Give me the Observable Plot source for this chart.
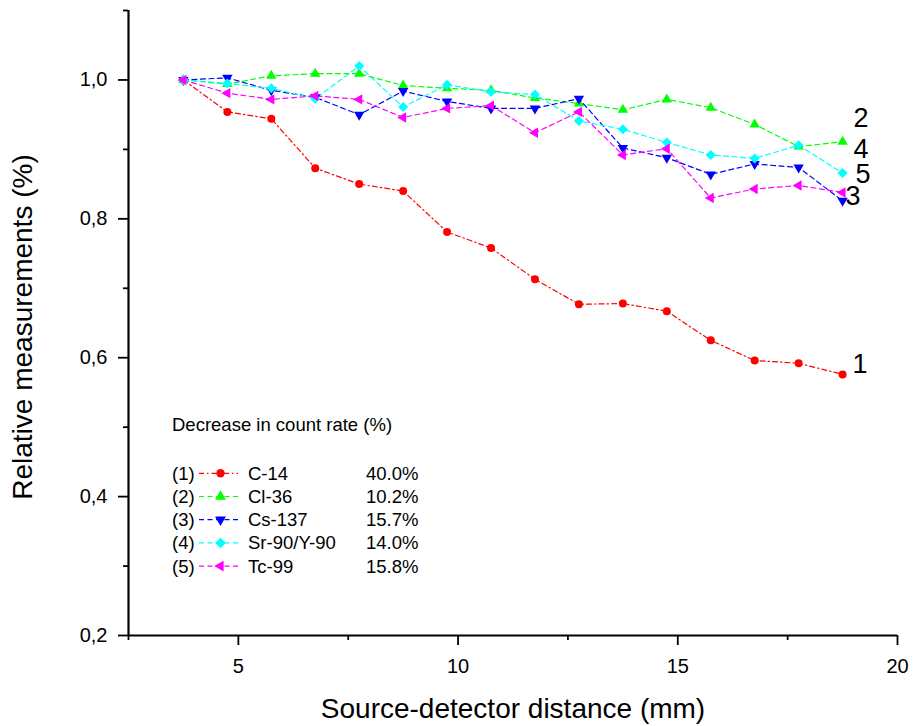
<!DOCTYPE html>
<html>
<head>
<meta charset="utf-8">
<script src="https://cdn.jsdelivr.net/npm/d3@7"></script>
<script src="https://cdn.jsdelivr.net/npm/@observablehq/plot@0.6"></script>
<style>
  body { margin: 0; background: #fff; }
  #wrap { position: relative; width: 913px; height: 726px; font-family: "Liberation Sans", Arial, sans-serif; }
  #legend { position: absolute; left: 0; top: 0; pointer-events: none; }
</style>
</head>
<body>
<div id="wrap"></div>
<script>
// ---- data ----
const distances = [3.75, 4.75, 5.75, 6.75, 7.75, 8.75, 9.75, 10.75, 11.75, 12.75, 13.75, 14.75, 15.75, 16.75, 17.75, 18.75];
const c14   = [1.000, 0.954, 0.944, 0.873, 0.850, 0.840, 0.781, 0.758, 0.713, 0.677, 0.678, 0.667, 0.625, 0.596, 0.592, 0.576];
const cl36  = [1.000, 0.994, 1.006, 1.009, 1.009, 0.992, 0.988, 0.985, 0.974, 0.966, 0.957, 0.972, 0.960, 0.936, 0.904, 0.911];
const cs137 = [1.000, 1.003, 0.985, 0.975, 0.950, 0.984, 0.969, 0.959, 0.959, 0.973, 0.902, 0.888, 0.864, 0.879, 0.874, 0.826];
const sr90  = [1.000, 0.995, 0.988, 0.973, 1.020, 0.961, 0.993, 0.983, 0.979, 0.941, 0.929, 0.910, 0.892, 0.887, 0.906, 0.866];
const tc99  = [1.000, 0.981, 0.972, 0.977, 0.972, 0.946, 0.959, 0.963, 0.924, 0.954, 0.892, 0.901, 0.830, 0.843, 0.848, 0.838];

const seriesNames  = ["C-14", "Cl-36", "Cs-137", "Sr-90/Y-90", "Tc-99"];
const seriesNumbers = ["1", "2", "3", "4", "5"];
const decreases    = ["40.0%", "10.2%", "15.7%", "14.0%", "15.8%"];
const legendTitle  = "Decrease in count rate (%)";

const xTickValues = [5, 10, 15, 20];
const xTickLabels = ["5", "10", "15", "20"];
const xMinorTicks = [2.5, 7.5, 12.5, 17.5];
const yTickValues = [0.2, 0.4, 0.6, 0.8, 1.0];
const yTickLabels = ["0,2", "0,4", "0,6", "0,8", "1,0"];
const yMinorTicks = [0.3, 0.5, 0.7, 0.9, 1.1];
const xTitle = "Source-detector distance (mm)";
const yTitle = "Relative measurements (%)";

// ---- styles ----
const colors = ["#ff0000", "#00ff00", "#0000ff", "#00ffff", "#ff00ff"];
const dashes = ["5,3,1.5,3", "5,3.5", "5,3.5", "5,3.5", "5,3.5"];
const labelOffsets = [[10, -10], [11, -23], [3, -4], [11, -24], [13, -18]];

// custom symbols (size = pi r^2)
function tri(angle) {
  return {
    draw(ctx, size) {
      const r = Math.sqrt(size / Math.PI);
      const side = 2.6 * r;
      const R = side / Math.sqrt(3);
      for (let k = 0; k < 3; k++) {
        const a = angle + k * 2 * Math.PI / 3;
        const px = R * Math.cos(a), py = R * Math.sin(a);
        if (k === 0) ctx.moveTo(px, py); else ctx.lineTo(px, py);
      }
      ctx.closePath();
    }
  };
}
const circleSym = { draw(ctx, size) { const r = Math.sqrt(size / Math.PI); ctx.moveTo(r, 0); ctx.arc(0, 0, r, 0, 2 * Math.PI); } };
const diamondSym = { draw(ctx, size) { const r = Math.sqrt(size / Math.PI) * 1.25; ctx.moveTo(0, -r); ctx.lineTo(r, 0); ctx.lineTo(0, r); ctx.lineTo(-r, 0); ctx.closePath(); } };
const symbols = [circleSym, tri(-Math.PI / 2), tri(Math.PI / 2), diamondSym, tri(Math.PI)];

const seriesValues = [c14, cl36, cs137, sr90, tc99];
const series = seriesValues.map((vals, i) => vals.map((v, j) => ({ x: distances[j], y: v, k: i })));

const FONT = "'Liberation Sans', Arial, sans-serif";

const marks = [];
series.forEach((data, i) => {
  marks.push(Plot.line(data, { x: "x", y: "y", stroke: colors[i], strokeWidth: 1.2, strokeDasharray: dashes[i] }));
});
series.forEach((data, i) => {
  marks.push(Plot.dot(data, { x: "x", y: "y", fill: colors[i], stroke: "none", r: 4, symbol: symbols[i] }));
});
series.forEach((data, i) => {
  marks.push(Plot.text([data[data.length - 1]], {
    x: "x", y: "y", text: () => seriesNumbers[i], textAnchor: "start", lineAnchor: "middle",
    dx: labelOffsets[i][0], dy: labelOffsets[i][1], fontSize: 27, fill: "#000"
  }));
});

marks.push(
  Plot.axisY(yTickValues, { tickSize: 10, tickPadding: 11, fontSize: 20, strokeWidth: 1.8, label: null,
    tickFormat: d => yTickLabels[yTickValues.indexOf(d)] }),
  Plot.axisY(yMinorTicks, { tickSize: 5, strokeWidth: 1.8, label: null, tickFormat: () => "" }),
  Plot.axisX(xTickValues, { tickSize: 10, tickPadding: 13, fontSize: 20, strokeWidth: 1.8, label: null,
    tickFormat: d => xTickLabels[xTickValues.indexOf(d)] }),
  Plot.axisX(xMinorTicks, { tickSize: 5, strokeWidth: 1.8, label: null, tickFormat: () => "" }),
  Plot.ruleX([2.5], { stroke: "#000", strokeWidth: 2.2 }),
  Plot.ruleY([0.2], { stroke: "#000", strokeWidth: 2.2 }),
  Plot.text([yTitle], { text: d => d, frameAnchor: "left", rotate: -90, dx: -105, dy: 4, fontSize: 28,
    textAnchor: "middle", lineAnchor: "middle", fill: "#000" }),
  Plot.text([xTitle], { text: d => d, frameAnchor: "bottom", dy: 74, fontSize: 28,
    textAnchor: "middle", lineAnchor: "middle", fill: "#000" })
);

const chart = Plot.plot({
  width: 913,
  height: 726,
  marginLeft: 128,
  marginRight: 16,
  marginTop: 10,
  marginBottom: 91,
  x: { domain: [2.5, 20] },
  y: { domain: [0.2, 1.1] },
  style: { fontFamily: FONT, background: "#fff", color: "#000", overflow: "visible" },
  marks
});
const wrap = document.getElementById("wrap");
wrap.appendChild(chart);

// ---- legend (overlay) ----
const lg = d3.select(wrap).append("svg")
  .attr("id", "legend").attr("width", 913).attr("height", 726)
  .style("font-family", FONT).style("font-size", "18.5px");
const L = { x0: 172, titleY: 425, rowY0: 473.3, rowStep: 23.2, lineX0: 199, lineX1: 238, markX: 220.5, nameX: 248, pctX: 366 };
lg.append("text").attr("x", L.x0).attr("y", L.titleY).attr("dy", "0.35em").text(legendTitle);
seriesNames.forEach((name, i) => {
  const y = L.rowY0 + i * L.rowStep;
  const g = lg.append("g");
  g.append("text").attr("x", L.x0).attr("y", y).attr("dy", "0.35em").text(`(${seriesNumbers[i]})`);
  g.append("line").attr("x1", L.lineX0).attr("x2", L.lineX1).attr("y1", y).attr("y2", y)
    .attr("stroke", colors[i]).attr("stroke-width", 1.2).attr("stroke-dasharray", dashes[i]);
  g.append("path").attr("transform", `translate(${L.markX},${y})`)
    .attr("d", d3.symbol(symbols[i], Math.PI * 4.2 * 4.2)()).attr("fill", colors[i]);
  g.append("text").attr("x", L.nameX).attr("y", y).attr("dy", "0.35em").text(name);
  g.append("text").attr("x", L.pctX).attr("y", y).attr("dy", "0.35em").text(decreases[i]);
});
</script>
</body>
</html>
